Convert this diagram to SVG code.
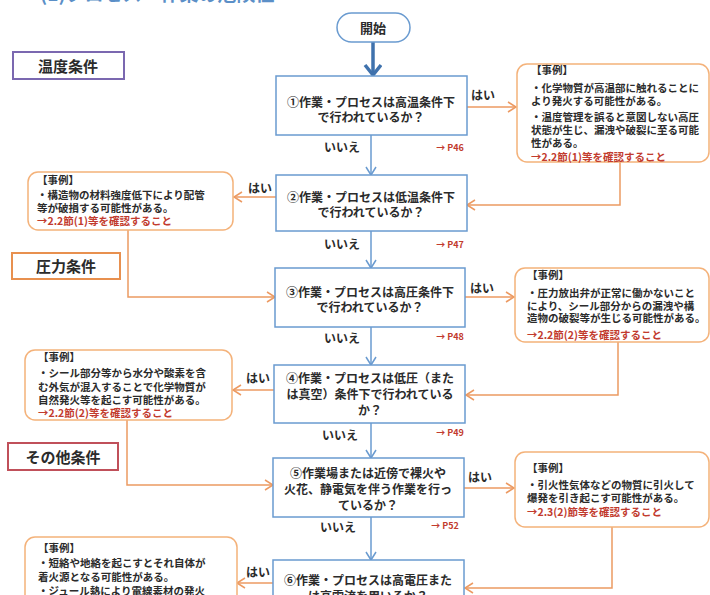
<svg xmlns="http://www.w3.org/2000/svg" width="710" height="595" viewBox="0 0 710 595">
<defs>
<style>
.t{font-family:"Noto Sans CJK JP","Noto Sans",sans-serif;font-weight:bold;fill:#2b2b2b}
.q{font-size:12px;text-anchor:middle}
.yn{font-size:12px}
.ex{font-size:10.5px}
.red{fill:#c23b2e}
.pg{font-size:9px;fill:#c23b2e;text-anchor:middle}
.lab{font-size:15px;text-anchor:middle}
.box{fill:#fff;stroke:#6a9bd0;stroke-width:1.5}
.obox{fill:#fff;stroke:#f4b27a;stroke-width:1.5}
.bl{fill:none;stroke:#6a9bd0;stroke-width:1.5}
.ol{fill:none;stroke:#ec9a62;stroke-width:1.5}
</style>
<marker id="ab" markerUnits="userSpaceOnUse" markerWidth="14" markerHeight="14" refX="9" refY="6" orient="auto"><path d="M1,1 L9,6 L1,11" fill="none" stroke="#6a9bd0" stroke-width="1.5"/></marker>
<marker id="ao" markerUnits="userSpaceOnUse" markerWidth="14" markerHeight="14" refX="9" refY="6" orient="auto"><path d="M1,1 L9,6 L1,11" fill="none" stroke="#ec9a62" stroke-width="1.5"/></marker>
<marker id="at" markerUnits="userSpaceOnUse" markerWidth="20" markerHeight="20" refX="12" refY="9" orient="auto"><path d="M2,1 L12,9 L2,17" fill="none" stroke="#3f72ad" stroke-width="3.5"/></marker>
</defs>
<rect width="710" height="595" fill="#fff"/>
<text x="40" y="0.5" class="t" style="font-size:19px;fill:#5b8fc7">(1)プロセス・作業の危険性</text>

<g id="labels">
<g id="lab-temp"><rect x="13" y="52" width="111" height="27" fill="#fff" stroke="#7b68b0" stroke-width="2"/><text x="68" y="71.5" class="t lab">温度条件</text></g>
<g id="lab-press"><rect x="12" y="253" width="108" height="26" fill="#fff" stroke="#e8904f" stroke-width="2"/><text x="66" y="271.5" class="t lab">圧力条件</text></g>
<g id="lab-other"><rect x="8" y="443" width="110" height="27" fill="#fff" stroke="#c0505a" stroke-width="2"/><text x="63" y="462.5" class="t lab">その他条件</text></g>
</g>

<g id="connectors">
<line x1="373" y1="42" x2="373" y2="75" stroke="#3f72ad" stroke-width="3.5" marker-end="url(#at)"/>
<line class="bl" x1="371" y1="135" x2="371" y2="175" marker-end="url(#ab)"/>
<line class="bl" x1="371" y1="231" x2="371" y2="268" marker-end="url(#ab)"/>
<line class="bl" x1="371" y1="327" x2="371" y2="365" marker-end="url(#ab)"/>
<line class="bl" x1="371" y1="423" x2="371" y2="458" marker-end="url(#ab)"/>
<line class="bl" x1="371" y1="517" x2="371" y2="560" marker-end="url(#ab)"/>
<line class="ol" x1="466" y1="107" x2="516" y2="107" marker-end="url(#ao)"/>
<polyline class="ol" points="620,162 620,205 467,205" marker-end="url(#ao)"/>
<line class="ol" x1="276" y1="197" x2="234" y2="197" marker-end="url(#ao)"/>
<polyline class="ol" points="128,230 128,297 275,297" marker-end="url(#ao)"/>
<line class="ol" x1="465" y1="297" x2="514" y2="297" marker-end="url(#ao)"/>
<polyline class="ol" points="618,342 618,395 466,395" marker-end="url(#ao)"/>
<line class="ol" x1="274" y1="390" x2="233" y2="390" marker-end="url(#ao)"/>
<polyline class="ol" points="127,420 127,485 273,485" marker-end="url(#ao)"/>
<line class="ol" x1="464" y1="488" x2="514" y2="488" marker-end="url(#ao)"/>
<polyline class="ol" points="612,527 612,588 465,588" marker-end="url(#ao)"/>
<line class="ol" x1="274" y1="583" x2="237" y2="583" marker-end="url(#ao)"/>
<text x="483" y="99.5" class="t yn" text-anchor="middle">はい</text>
<text x="260" y="192.5" class="t yn" text-anchor="middle">はい</text>
<text x="482" y="292.5" class="t yn" text-anchor="middle">はい</text>
<text x="258" y="382.5" class="t yn" text-anchor="middle">はい</text>
<text x="480" y="481.5" class="t yn" text-anchor="middle">はい</text>
<text x="258" y="576.5" class="t yn" text-anchor="middle">はい</text>
<text x="342" y="151.5" class="t yn" text-anchor="middle">いいえ</text>
<text x="342" y="248.5" class="t yn" text-anchor="middle">いいえ</text>
<text x="342" y="342.5" class="t yn" text-anchor="middle">いいえ</text>
<text x="340" y="439.5" class="t yn" text-anchor="middle">いいえ</text>
<text x="338" y="531.5" class="t yn" text-anchor="middle">いいえ</text>
<text x="450" y="150.5" class="t pg">→ P46</text>
<text x="450" y="247.5" class="t pg">→ P47</text>
<text x="450" y="339.5" class="t pg">→ P48</text>
<text x="450" y="435.5" class="t pg">→ P49</text>
<text x="445" y="528.5" class="t pg">→ P52</text>
</g>

<g id="start"><rect x="337" y="13" width="73" height="29" rx="14.5" class="box"/><text x="373" y="32.5" class="t q" style="font-size:13px">開始</text></g>

<g id="q1"><rect x="276" y="76" width="191" height="59" class="box"/>
<text x="371" y="106.5" class="t q">①作業・プロセスは高温条件下</text><text x="371" y="121.5" class="t q">で行われているか？</text></g>
<g id="q2"><rect x="276" y="175" width="191" height="56" class="box"/>
<text x="371" y="201.5" class="t q">②作業・プロセスは低温条件下</text><text x="371" y="216.5" class="t q">で行われているか？</text></g>
<g id="q3"><rect x="275" y="268" width="190" height="59" class="box"/>
<text x="370" y="296.5" class="t q">③作業・プロセスは高圧条件下</text><text x="370" y="311.5" class="t q">で行われているか？</text></g>
<g id="q4"><rect x="274" y="365" width="191" height="58" class="box"/>
<text x="370" y="382.5" class="t q">④作業・プロセスは低圧（また</text><text x="370" y="398.5" class="t q">は真空）条件下で行われている</text><text x="370" y="414.5" class="t q">か？</text></g>
<g id="q5"><rect x="273" y="458" width="191" height="59" class="box"/>
<text x="368" y="477.5" class="t q">⑤作業場または近傍で裸火や</text><text x="368" y="493.5" class="t q">火花、静電気を伴う作業を行っ</text><text x="368" y="509.5" class="t q">ているか？</text></g>
<g id="q6"><rect x="273" y="560" width="191" height="50" class="box"/>
<text x="368" y="584.5" class="t q">⑥作業・プロセスは高電圧また</text><text x="368" y="600.5" class="t q">は高電流を用いるか？</text></g>

<g id="ex1"><rect x="517" y="64" width="192" height="98" rx="10" class="obox"/>
<text x="531" y="74" class="t ex">【事例】</text>
<text x="531" y="92.3" class="t ex">・化学物質が高温部に触れることに</text>
<text x="531" y="104.5" class="t ex">より発火する可能性がある。</text>
<text x="531" y="121" class="t ex">・温度管理を誤ると意図しない高圧</text>
<text x="531" y="134" class="t ex">状態が生じ、漏洩や破裂に至る可能</text>
<text x="531" y="147.3" class="t ex">性がある。</text>
<text x="531" y="161" class="t ex red">→2.2節(1)等を確認すること</text></g>

<g id="ex2"><rect x="28" y="172" width="205" height="58" rx="10" class="obox"/>
<text x="37" y="184" class="t ex">【事例】</text>
<text x="37" y="199" class="t ex">・構造物の材料強度低下により配管</text>
<text x="37" y="212" class="t ex">等が破損する可能性がある。</text>
<text x="37" y="224.5" class="t ex red">→2.2節(1)等を確認すること</text></g>

<g id="ex3"><rect x="515" y="268" width="194" height="74" rx="10" class="obox"/>
<text x="527" y="279" class="t ex">【事例】</text>
<text x="527" y="297" class="t ex">・圧力放出弁が正常に働かないこと</text>
<text x="527" y="309.5" class="t ex">により、シール部分からの漏洩や構</text>
<text x="527" y="322" class="t ex">造物の破裂等が生じる可能性がある。</text>
<text x="527" y="339" class="t ex red">→2.2節(2)等を確認すること</text></g>

<g id="ex4"><rect x="25" y="350" width="207" height="70" rx="10" class="obox"/>
<text x="38" y="361" class="t ex">【事例】</text>
<text x="38" y="377" class="t ex">・シール部分等から水分や酸素を含</text>
<text x="38" y="390.5" class="t ex">む外気が混入することで化学物質が</text>
<text x="38" y="403.5" class="t ex">自然発火等を起こす可能性がある。</text>
<text x="38" y="417" class="t ex red">→2.2節(2)等を確認すること</text></g>

<g id="ex5"><rect x="515" y="452" width="194" height="75" rx="10" class="obox"/>
<text x="527" y="472" class="t ex">【事例】</text>
<text x="527" y="489" class="t ex">・引火性気体などの物質に引火して</text>
<text x="527" y="501.5" class="t ex">爆発を引き起こす可能性がある。</text>
<text x="527" y="516" class="t ex red">→2.3(2)節等を確認すること</text></g>

<g id="ex6"><rect x="25" y="537" width="212" height="70" rx="10" class="obox"/>
<text x="38" y="552" class="t ex">【事例】</text>
<text x="38" y="567" class="t ex">・短絡や地絡を起こすとそれ自体が</text>
<text x="38" y="581" class="t ex">着火源となる可能性がある。</text>
<text x="38" y="595" class="t ex">・ジュール熱により電線素材の発火</text></g>
</svg>
